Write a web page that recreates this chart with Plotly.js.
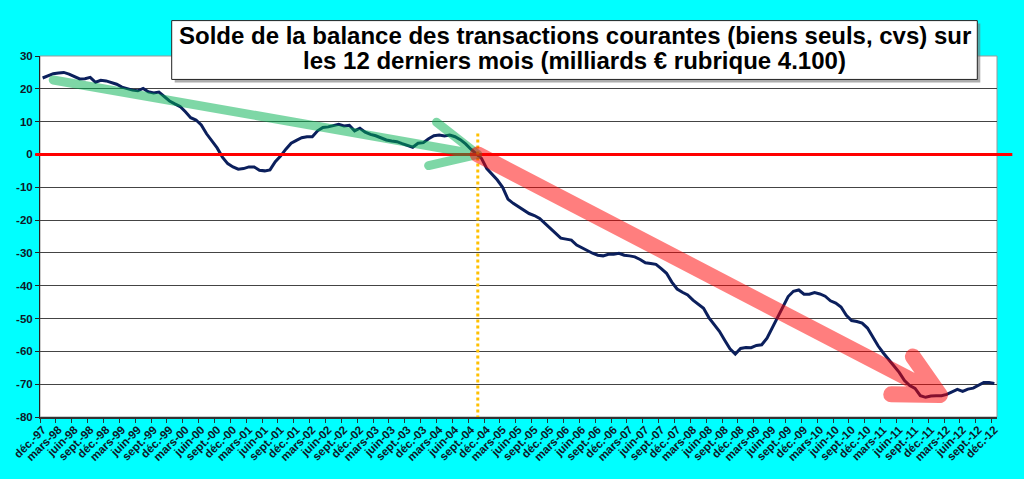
<!DOCTYPE html>
<html>
<head>
<meta charset="utf-8">
<script src="https://cdn.plot.ly/plotly-3.0.1.min.js"></script>
<style>
	html, body { margin: 0; padding: 0; background: #00ffff; }
	#chart { width: 1024px; height: 479px; }
</style>
</head>
<body>
<div id="chart"></div>
<script>
// month labels, dec-97 .. dec-12 (one point per month)
const monthNames = ['janv.', 'févr.', 'mars', 'avr.', 'mai', 'juin', 'juil.', 'août', 'sept.', 'oct.', 'nov.', 'déc.'];
const years = ['97', '98', '99', '00', '01', '02', '03', '04', '05', '06', '07', '08', '09', '10', '11', '12'];

// solde sur 12 mois glissants, milliards d'euros
const solde = [
	23.3, 24.0, 24.6, 24.8, 25.0, 24.5, 23.7, 23.0, 23.1, 23.5, 22.0, 22.6,
	22.4, 22.0, 21.4, 20.5, 20.0, 19.6, 19.4, 20.1, 19.1, 18.7, 19.0, 17.6,
	16.3, 15.4, 14.6, 13.0, 11.2, 10.5, 9.0, 6.3, 4.2, 2.0, -0.8, -2.8,
	-3.8, -4.5, -4.3, -3.8, -3.8, -4.8, -5.0, -4.7, -2.2, -0.5, 1.6, 3.4,
	4.3, 5.1, 5.4, 5.4, 7.2, 8.2, 8.4, 8.8, 9.2, 8.7, 8.9, 7.2,
	8.0, 6.8, 6.1, 5.7, 5.0, 4.4, 4.1, 3.9, 3.3, 2.8, 2.2, 3.4,
	3.6, 4.8, 5.7, 5.9, 5.6, 5.9, 5.4, 4.5, 3.2, 1.6, 0.3, -1.2,
	-4.3, -6.0, -7.8, -10.0, -13.6, -14.9, -16.0, -17.0, -18.0, -18.6, -19.5, -21.0,
	-22.5, -24.2, -25.5, -25.8, -26.1, -27.6, -28.5, -29.4, -30.1, -30.7, -30.9, -30.4,
	-30.4, -30.1, -30.7, -30.9, -31.2, -32.0, -33.0, -33.2, -33.5, -34.8, -36.2, -38.9,
	-41.0, -42.0, -42.8, -44.4, -45.8, -46.9, -49.7, -51.7, -53.9, -56.6, -59.2, -60.8,
	-59.1, -58.8, -58.9, -58.2, -58.0, -56.0, -52.9, -49.4, -46.6, -43.3, -41.7, -41.3,
	-42.6, -42.6, -42.1, -42.5, -43.2, -44.6, -45.3, -46.5, -49.0, -50.6, -50.9, -51.4,
	-52.9, -55.8, -58.3, -60.5, -62.5, -64.3, -66.4, -68.9, -70.4, -71.3, -73.5, -74.0,
	-73.6, -73.5, -73.5, -73.1, -72.4, -71.6, -72.2, -71.5, -71.2, -70.4, -69.5, -69.5,
	-69.8
];

const yTicks = [30, 20, 10, 0, -10, -20, -30, -40, -50, -60, -70, -80];

// hand drawn trend arrows: [month index, value]
const greenArrow = { start: [2, 22.7], tip: [82.3, 0], arm1: [74.5, 9.8], arm2: [73.0, -3.4] };
const redArrow = { start: [82.3, 0], tip: [169.7, -73.3], arm1: [164.6, -61.6], arm2: [160.5, -73.1] };
const markerMonth = 82.3; // dotted vertical

const titleLines = [
	'Solde de la balance des transactions courantes (biens seuls, cvs) sur',
	'les 12 derniers mois (milliards € rubrique 4.100)'
];

const months = [];
years.forEach((yy, k) => {
	monthNames.forEach((m, j) => {
		if (k === 0 && j < 11) return;   // starts in dec-97
		if (months.length < solde.length) months.push(m + '-' + yy);
	});
});

function arrowPath(a) {
	const p = q => q[0] + ',' + q[1];
	return 'M' + p(a.start) + 'L' + p(a.tip) + 'M' + p(a.arm1) + 'L' + p(a.tip) + 'L' + p(a.arm2);
}

const trace = {
	x: months,
	y: solde,
	type: 'scatter',
	mode: 'lines',
	line: { color: '#0b1f5c', width: 3 },
	hoverinfo: 'skip'
};

const W = 1024, H = 479;
const plotL = 40, plotR = 997, plotT = 55.5, plotB = 417.5;
const px = v => (v - plotL) / (plotR - plotL);
const py = v => (plotB - v) / (plotB - plotT);

const font = { family: 'Liberation Sans, Arial, sans-serif', color: '#111' };

const layout = {
	width: W,
	height: H,
	margin: { l: plotL, r: W - plotR, t: plotT, b: H - plotB, pad: 0 },
	paper_bgcolor: '#00ffff',
	plot_bgcolor: '#ffffff',
	showlegend: false,
	font,
	xaxis: {
		type: 'category',
		range: [-0.5, solde.length - 0.5],
		tickson: 'boundaries',
		tick0: 0,
		dtick: 3,
		tickangle: -45,
		ticks: 'outside',
		ticklen: 4,
		tickcolor: '#333',
		showgrid: false,
		showline: true,
		linecolor: '#333',
		linewidth: 1.5,
		tickfont: { family: font.family, size: 11.5, weight: 'bold', color: '#101828' },
		fixedrange: true
	},
	yaxis: {
		range: [-80, 30],
		tickvals: yTicks,
		ticktext: yTicks.map(String),
		ticks: 'outside',
		ticklen: 4,
		tickcolor: '#222',
		showgrid: true,
		gridcolor: '#444',
		gridwidth: 1,
		zeroline: false,
		showline: true,
		linecolor: '#222',
		linewidth: 1,
		tickfont: { family: font.family, size: 11.5, weight: 'bold', color: '#101828' },
		fixedrange: true
	},
	shapes: [
		// plot frame
		{ type: 'rect', xref: 'paper', yref: 'paper', x0: 0, x1: 1, y0: 0, y1: 1,
			line: { color: '#999', width: 1 }, layer: 'below' },
		// red zero line
		{ type: 'line', xref: 'paper', yref: 'y', x0: -0.005, x1: 1.016, y0: 0, y1: 0,
			line: { color: '#ff0000', width: 3 } },
		// dotted marker
		{ type: 'line', xref: 'x', yref: 'y', x0: markerMonth, x1: markerMonth, y0: -82.3, y1: 6.6,
			line: { color: '#ffc000', width: 3, dash: 'dot' } },
		// arrows
		{ type: 'path', xref: 'x', yref: 'y', path: arrowPath(greenArrow),
			line: { color: '#00b050', width: 9 }, opacity: 0.5 },
		{ type: 'path', xref: 'x', yref: 'y', path: arrowPath(redArrow),
			line: { color: '#ff0000', width: 16 }, opacity: 0.5 },
		// title box + shadow
		{ type: 'rect', xref: 'paper', yref: 'paper',
			x0: px(174.7), x1: px(980.3), y0: py(82), y1: py(23),
			fillcolor: '#777', line: { width: 0 }, opacity: 0.6 },
		{ type: 'rect', xref: 'paper', yref: 'paper',
			x0: px(171.7), x1: px(977.3), y0: py(79), y1: py(20),
			fillcolor: '#ffffff', line: { color: '#222', width: 1 } }
	],
	annotations: titleLines.map((t, i) => ({
		text: t,
		xref: 'paper', yref: 'paper',
		x: px(574.5), y: py(34.5 + i * 26),
		xanchor: 'center', yanchor: 'middle',
		showarrow: false,
		font: { family: font.family, size: 24, weight: 'bold', color: '#000' }
	}))
};

const options = {
	displayModeBar: false,
	staticPlot: true
};

Plotly.newPlot('chart', [trace], layout, options).then(() => {
	// rounded ends for the drawn arrows only (the wide strokes)
	document.querySelectorAll('.shapelayer path').forEach(p => {
		const w = parseFloat(p.style.strokeWidth || p.getAttribute('stroke-width') || 0);
		if (w >= 8) {
			p.style.strokeLinecap = 'round';
			p.style.strokeLinejoin = 'round';
		}
	});
});
</script>
</body>
</html>
